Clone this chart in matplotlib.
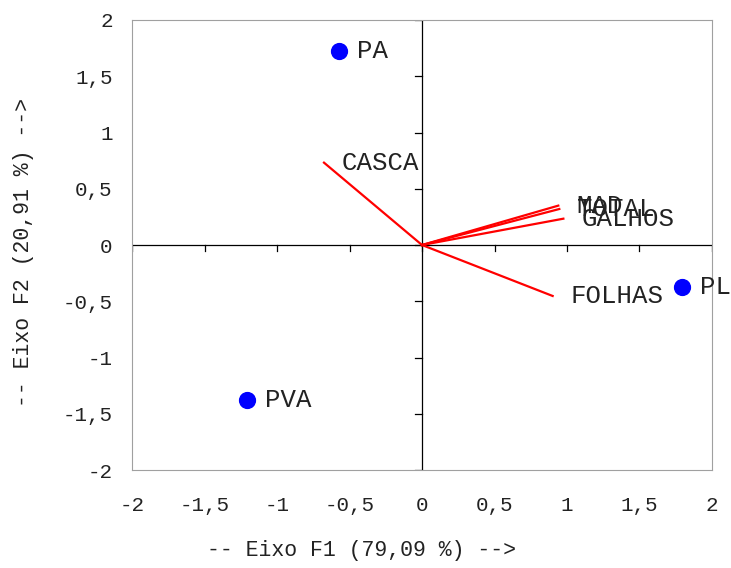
import matplotlib.pyplot as plt
import numpy as np

# observations (blue points)
obs_names = ["PA", "PVA", "PL"]
obs_x = [-0.572, -1.207, 1.793]
obs_y = [1.724, -1.378, -0.373]

# variables (red vectors)
var_names = ["CASCA", "MAD", "TOTAL", "GALHOS", "FOLHAS"]
var_x = [-0.676, 0.940, 0.947, 0.975, 0.901]
var_y = [0.732, 0.350, 0.320, 0.234, -0.453]

ticks = [-2, -1.5, -1, -0.5, 0, 0.5, 1, 1.5, 2]
tick_labels = ["-2", "-1,5", "-1", "-0,5", "0", "0,5", "1", "1,5", "2"]

plt.rcParams['font.family'] = ['Liberation Mono', 'DejaVu Sans Mono']

fig = plt.figure(figsize=(7.31, 5.68), dpi=100)
ax = fig.add_axes([0.1806, 0.1725, 0.7934, 0.7923])

ax.set_xlim(-2, 2)
ax.set_ylim(-2, 2)
for s in ax.spines.values():
    s.set_color('#a0a0a0')
    s.set_linewidth(0.8)

ax.set_xticks(ticks)
ax.set_yticks(ticks)
ax.set_xticklabels(tick_labels)
ax.set_yticklabels(tick_labels)
ax.tick_params(length=0, labelsize=15, colors='#222222')
ax.tick_params(axis='x', pad=19)
ax.tick_params(axis='y', pad=14)

# zero axes with their own ticks
ax.axhline(0, color='black', lw=0.9, zorder=1)
ax.axvline(0, color='black', lw=0.9, zorder=1)
tl = 0.05
for t in ticks:
    ax.plot([t, t], [0, -tl], color='black', lw=0.9, zorder=1)
    ax.plot([0, -0.05], [t, t], color='black', lw=0.9, zorder=1)

for name, x, y in zip(var_names, var_x, var_y):
    ax.plot([0, x], [0, y], color='red', lw=1.6, zorder=2)
    ax.annotate(name, (x, y), xytext=(13, 0), textcoords='offset points',
                ha='left', va='center', fontsize=18.5, color='#222222')

ax.scatter(obs_x, obs_y, s=130, color='blue', zorder=3)
for name, x, y in zip(obs_names, obs_x, obs_y):
    ax.annotate(name, (x, y), xytext=(13, 0), textcoords='offset points',
                ha='left', va='center', fontsize=18.5, color='#222222')

fig.text(0.495, 0.030, "-- Eixo F1 (79,09 %) -->", ha='center', va='center',
         fontsize=15.5, color='#222222')
fig.text(0.032, 0.556, "-- Eixo F2 (20,91 %) -->", ha='center', va='center',
         rotation=90, fontsize=15.5, color='#222222')

fig.savefig('out.png', dpi=100)
